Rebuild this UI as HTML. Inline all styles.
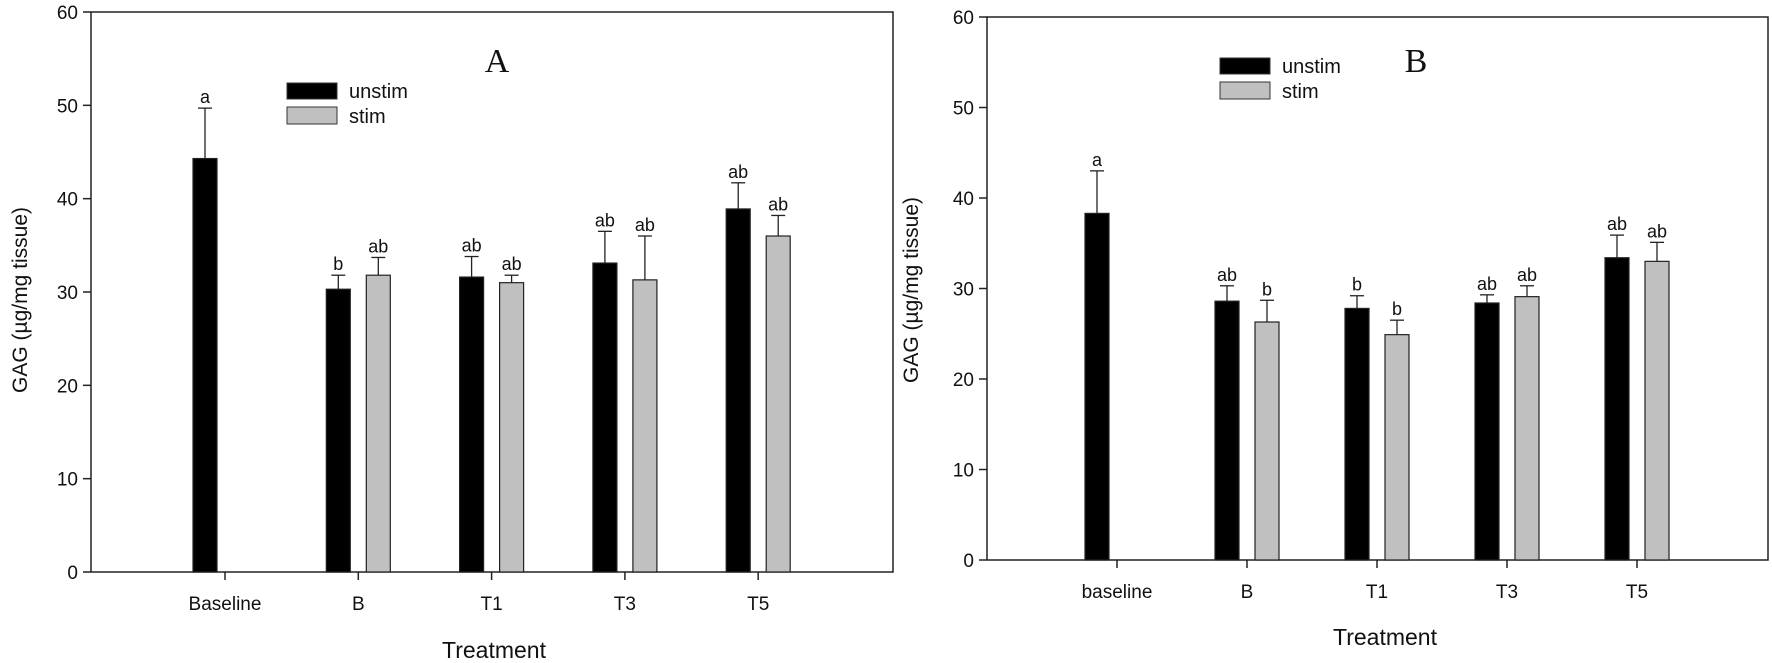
<!DOCTYPE html>
<html><head><meta charset="utf-8"><style>
body{margin:0;background:#fff}
svg{display:block;font-family:"Liberation Sans",sans-serif}
</style></head><body>
<svg id="chart" width="1772" height="663" xmlns="http://www.w3.org/2000/svg"></svg>
<script>
const categoriesA = ["Baseline","B","T1","T3","T5"];
const unstimA = [44.3,30.3,31.6,33.1,38.9];
const unstimErrA = [49.7,31.8,33.8,36.5,41.7];
const stimA = [null,31.8,31.0,31.3,36.0];
const stimErrA = [null,33.7,31.8,36.0,38.2];
const unstimLetA = ["a","b","ab","ab","ab"];
const stimLetA = [null,"ab","ab","ab","ab"];
const categoriesB = ["baseline","B","T1","T3","T5"];
const unstimB = [38.3,28.6,27.8,28.4,33.4];
const unstimErrB = [43.0,30.3,29.2,29.3,35.9];
const stimB = [null,26.3,24.9,29.1,33.0];
const stimErrB = [null,28.7,26.5,30.3,35.1];
const unstimLetB = ["a","ab","b","ab","ab"];
const stimLetB = [null,"b","b","ab","ab"];
const yTicks = [0,10,20,30,40,50,60];

const svg = document.getElementById('chart');
const NS = "http://www.w3.org/2000/svg";
function mk(tag, attrs, parent){const e=document.createElementNS(NS,tag);for(const k in attrs)e.setAttribute(k,attrs[k]);(parent||svg).appendChild(e);return e;}

function panel(p){
  const g = mk('g',{});
  
  
  const y = v => p.y0 - (v/60)*(p.y0-p.y60);
  const x = i => p.x0 + i*p.step;
  const fr = mk('rect',{x:p.left,y:p.y60,width:p.right-p.left,height:p.y0-p.y60,fill:'none',stroke:'#222','stroke-width':1.5},g);
  
  
  yTicks.forEach(t=>{
    mk('line',{x1:p.left-8,x2:p.left,y1:y(t),y2:y(t),stroke:'#222','stroke-width':1.5},g);
    const tx = mk('text',{x:p.left-13,y:y(t)+7,'text-anchor':'end','font-size':19,fill:'#111'},g);
    tx.textContent=t;
    
    
  });
  p.cats.forEach((c,i)=>{
    mk('line',{x1:x(i),x2:x(i),y1:p.y0,y2:p.y0+8,stroke:'#222','stroke-width':1.5},g);
    const tx = mk('text',{x:x(i),y:p.tickY,'text-anchor':'middle','font-size':19,fill:'#111'},g);
    tx.textContent=c;
    
    
  });
  function bar(i,val,err,let,off,fill,name){
    if(val==null) return;
    const cx = x(i)+off;
    const r = mk('rect',{x:cx-12,y:y(val),width:24,height:p.y0-y(val),fill:fill,stroke:'#222','stroke-width':1.2},g);
    
    
    mk('line',{x1:cx,x2:cx,y1:y(val),y2:y(err),stroke:'#222','stroke-width':1.3},g);
    mk('line',{x1:cx-7,x2:cx+7,y1:y(err),y2:y(err),stroke:'#222','stroke-width':1.3},g);
    const t = mk('text',{x:cx,y:y(err)-5,'text-anchor':'middle','font-size':18,fill:'#111'},g);
    t.textContent=let;
    
    
  }
  p.cats.forEach((c,i)=>{
    bar(i,p.u[i],p.ue[i],p.ul[i],-20,'#000','unstim');
    bar(i,p.s[i],p.se[i],p.sl[i],20,'#c0c0c0','stim');
  });
  const lg = mk('g',{},g);
  
  
  mk('rect',{x:p.lx,y:p.ly,width:50,height:16,fill:'#000',stroke:'#333'},lg);
  mk('rect',{x:p.lx,y:p.ly+24,width:50,height:17,fill:'#c0c0c0',stroke:'#333'},lg);
  const l1=mk('text',{x:p.lx+62,y:p.ly+15,'font-size':20,fill:'#111'},lg); l1.textContent='unstim';
  const l2=mk('text',{x:p.lx+62,y:p.ly+40,'font-size':20,fill:'#111'},lg); l2.textContent='stim';
  const ti=mk('text',{x:p.tx,y:72,'font-size':34,'text-anchor':'middle','font-family':'Liberation Serif, serif',fill:'#111'},g);
  ti.textContent=p.id;
  
  
  const xt=mk('text',{x:p.xtx,y:p.xtY,'font-size':23,'text-anchor':'middle',fill:'#111'},g);
  xt.textContent='Treatment';
  
  
  const yt=mk('text',{x:0,y:0,'font-size':21,'text-anchor':'middle',fill:'#111',transform:`translate(${p.ytx},${p.yty}) rotate(-90)`},g);
  yt.textContent='GAG (\u00b5g/mg tissue)';
  
  
}
panel({id:'A',left:91,right:893,y0:572,y60:12,x0:225,step:133.3,cats:categoriesA,u:unstimA,ue:unstimErrA,s:stimA,se:stimErrA,ul:unstimLetA,sl:stimLetA,lx:287,ly:83,tx:497,tickY:610,xtx:494,xtY:658,ytx:27,yty:300});
panel({id:'B',left:987,right:1768,y0:560,y60:17,x0:1117,step:130,cats:categoriesB,u:unstimB,ue:unstimErrB,s:stimB,se:stimErrB,ul:unstimLetB,sl:stimLetB,lx:1220,ly:58,tx:1416,tickY:598,xtx:1385,xtY:645,ytx:918,yty:290});
</script>
</body></html>
